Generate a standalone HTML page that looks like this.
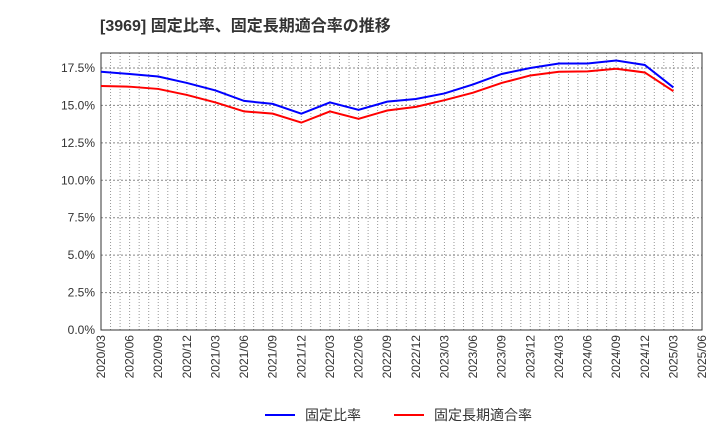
<!DOCTYPE html>
<html><head><meta charset="utf-8"><style>
body{margin:0;background:#fff;width:720px;height:440px;overflow:hidden;font-family:"Liberation Sans","Noto Sans CJK JP",sans-serif}
</style></head><body>
<svg id="chart" width="720" height="440" xmlns="http://www.w3.org/2000/svg" font-family="Liberation Sans, Noto Sans CJK JP, sans-serif">
<text x="100" y="31" font-size="16" font-weight="bold" fill="#333">[3969]  固定比率、固定長期適合率の推移</text>
<g id="grid"></g><g id="axes"></g><g id="series"></g>
<g>
<line x1="265" y1="415" x2="295" y2="415" stroke="#0000ff" stroke-width="2"/>
<text x="305" y="420" font-size="14" fill="#333">固定比率</text>
<line x1="394" y1="415" x2="424" y2="415" stroke="#ff0000" stroke-width="2"/>
<text x="434" y="420" font-size="14" fill="#333">固定長期適合率</text>
</g>
</svg>
<script>
const categories=["2020/03","2020/06","2020/09","2020/12","2021/03","2021/06","2021/09","2021/12","2022/03","2022/06","2022/09","2022/12","2023/03","2023/06","2023/09","2023/12","2024/03","2024/06","2024/09","2024/12","2025/03","2025/06"];
const fixedRatio=[17.25,17.1,16.93,16.5,16.0,15.3,15.1,14.45,15.2,14.7,15.25,15.43,15.8,16.4,17.1,17.5,17.8,17.8,18.0,17.7,16.2];
const longTermFitRatio=[16.3,16.25,16.1,15.7,15.2,14.6,14.45,13.85,14.6,14.1,14.66,14.9,15.35,15.85,16.5,17.0,17.25,17.27,17.45,17.2,15.95];
const yTicks=[0,2.5,5,7.5,10,12.5,15,17.5];
const L=101,R=702,T=53,B=330,yMax=18.5;
const NS="http://www.w3.org/2000/svg";
const xs=i=>L+i*(R-L)/(categories.length-1);
const ys=v=>B-v*(B-T)/yMax;
function mk(tag,attrs,parent){const e=document.createElementNS(NS,tag);for(const k in attrs)e.setAttribute(k,attrs[k]);parent.appendChild(e);return e;}
const grid=document.getElementById('grid'),axes=document.getElementById('axes'),series=document.getElementById('series');
for(let m=0;m<=(categories.length-1)*3;m++){const x=L+m*(R-L)/((categories.length-1)*3);
const l=mk('line',{x1:x,x2:x,y1:T,y2:B,stroke:'#999','stroke-dasharray':'1,2','stroke-width':1},grid);

}
yTicks.forEach(v=>{const y=ys(v);
const l=mk('line',{x1:L,x2:R,y1:y,y2:y,stroke:'#888','stroke-dasharray':'2,2','stroke-width':1},grid);


const t=mk('text',{x:L-6,y:y+4,'text-anchor':'end','font-size':12,fill:'#333'},axes);t.textContent=v.toFixed(1)+'%';

});
const frame=mk('rect',{x:L,y:T,width:R-L,height:B-T,fill:'none',stroke:'#333','stroke-width':1},axes);


categories.forEach((c,i)=>{const x=xs(i);
const t=mk('text',{transform:`translate(${x+4},${B+5}) rotate(-90)`,'text-anchor':'end','font-size':12,fill:'#333'},axes);t.textContent=c;

});
function line(vals,color,name){const p=mk('polyline',{points:vals.map((v,i)=>xs(i)+','+ys(v)).join(' '),fill:'none',stroke:color,'stroke-width':2},series);

}
line(longTermFitRatio,'#ff0000','long-term-fit-ratio-line');
line(fixedRatio,'#0000ff','fixed-ratio-line');
</script>
</body></html>
